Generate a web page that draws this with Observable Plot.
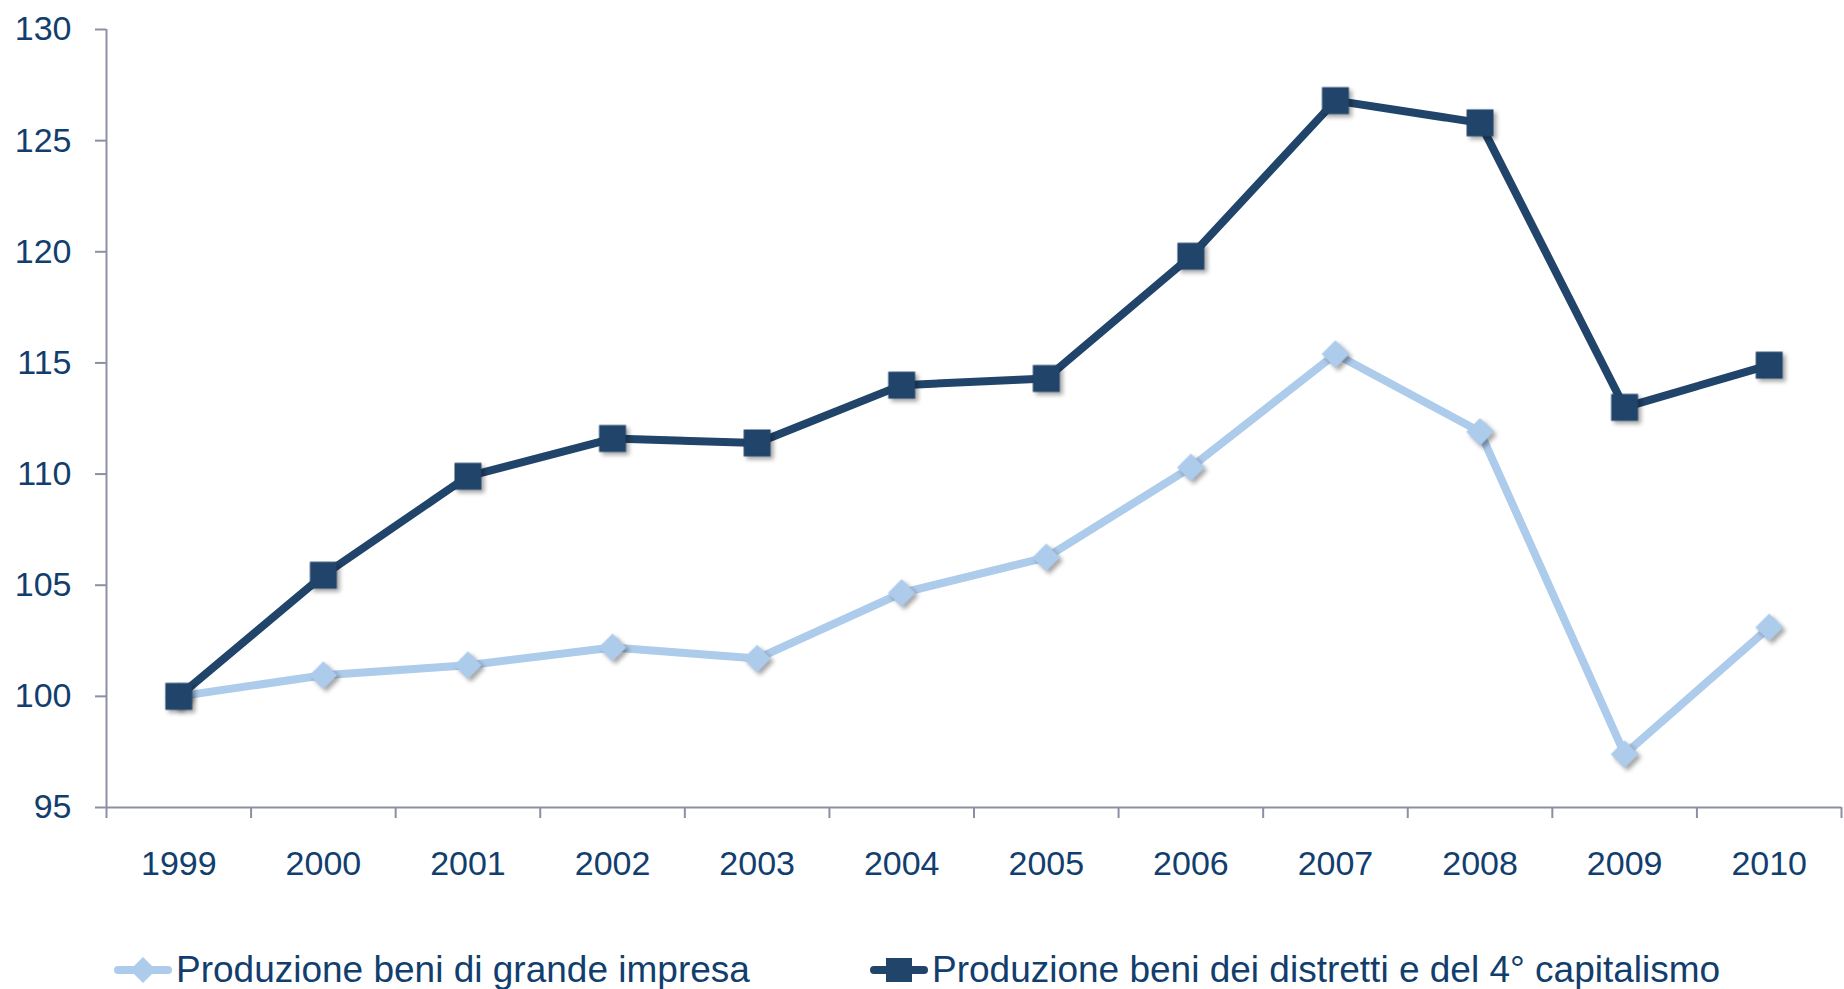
<!DOCTYPE html>
<html>
<head>
<meta charset="utf-8">
<script src="https://cdn.jsdelivr.net/npm/d3@7"></script>
<script src="https://cdn.jsdelivr.net/npm/@observablehq/plot@0.6"></script>
<style>
  html, body { margin: 0; padding: 0; background: #fff; }
  #wrap { position: relative; width: 1844px; height: 989px; font-family: "Liberation Sans", Arial, sans-serif; }
  .shadow { filter: drop-shadow(3px 3px 2px rgba(0,0,0,0.35)); }
  .leg { position: absolute; top: 946px; height: 48px; display: flex; align-items: center; font-size: 37px; color: #123e6e; white-space: nowrap; }
  .leg svg { margin-right: 4px; }
</style>
</head>
<body>
<div id="wrap"></div>
<script>
const years = [1999, 2000, 2001, 2002, 2003, 2004, 2005, 2006, 2007, 2008, 2009, 2010];
const grandeImpresa = [100, 100.95, 101.4, 102.2, 101.7, 104.65, 106.25, 110.3, 115.4, 111.9, 97.4, 103.1];
const distretti = [100, 105.45, 109.9, 111.6, 111.4, 114.0, 114.3, 119.8, 126.8, 125.8, 113.0, 114.9];
const yTicks = [95, 100, 105, 110, 115, 120, 125, 130];
const seriesNames = ["Produzione beni di grande impresa", "Produzione beni dei distretti e del 4° capitalismo"];

const light = "#adcbeb";
const dark = "#21446a";
const axisGray = "#8c8fa3";
const textColor = "#123e6e";

const dataG = years.map((y, i) => ({year: y, value: grandeImpresa[i]}));
const dataD = years.map((y, i) => ({year: y, value: distretti[i]}));
const boundaries = years.map(y => y - 0.5).concat([years[years.length - 1] + 0.5]);

const chart = Plot.plot({
  width: 1844,
  height: 900,
  marginTop: 29,
  marginBottom: 93,
  marginLeft: 106,
  marginRight: 3,
  style: {fontFamily: '"Liberation Sans", Arial, sans-serif', background: "#fff", color: textColor},
  x: {domain: [boundaries[0], boundaries[boundaries.length - 1]]},
  y: {domain: [95, 130]},
  marks: [
    Plot.axisY({ticks: yTicks, tickSize: 11, tickFormat: () => "", stroke: axisGray, strokeWidth: 2, label: null}),
    Plot.axisY({ticks: yTicks, tickSize: 0, tickPadding: 35, fontSize: 34, fill: textColor, label: null}),
    Plot.axisX({ticks: boundaries, tickSize: 11, tickFormat: () => "", stroke: axisGray, strokeWidth: 2, label: null}),
    Plot.axisX({ticks: years, tickSize: 0, tickPadding: 43, fontSize: 34, fill: textColor, tickFormat: d => String(d), label: null}),
    Plot.ruleX([boundaries[0]], {y1: 95, y2: 130, stroke: axisGray, strokeWidth: 2}),
    Plot.ruleY([95], {stroke: axisGray, strokeWidth: 2}),
    Plot.line(dataG, {x: "year", y: "value", stroke: light, strokeWidth: 8}),
    Plot.dot(dataG, {x: "year", y: "value", symbol: "diamond2", r: 12.5, fill: light, stroke: "none", className: "shadow"}),
    Plot.line(dataD, {x: "year", y: "value", stroke: dark, strokeWidth: 8}),
    Plot.dot(dataD, {x: "year", y: "value", symbol: "square", r: 15.2, fill: dark, stroke: "none", className: "shadow"})
  ]
});

const wrap = document.getElementById("wrap");
wrap.appendChild(chart);

function legendItem(left, name, color, shape) {
  const div = document.createElement("div");
  div.className = "leg";
  div.style.left = left + "px";
  const marker = shape === "diamond"
    ? `<polygon points="29,10 42,23 29,36 16,23" fill="${color}"/>`
    : `<rect x="16" y="11" width="26" height="24" fill="${color}"/>`;
  div.innerHTML = `<svg width="58" height="46" viewBox="0 0 58 46"><line x1="4" y1="23" x2="54" y2="23" stroke="${color}" stroke-width="8" stroke-linecap="round"/>${marker}</svg><span>${name}</span>`;
  wrap.appendChild(div);
}
legendItem(114, seriesNames[0], light, "diamond");
legendItem(870, seriesNames[1], dark, "square");
</script>
</body>
</html>
